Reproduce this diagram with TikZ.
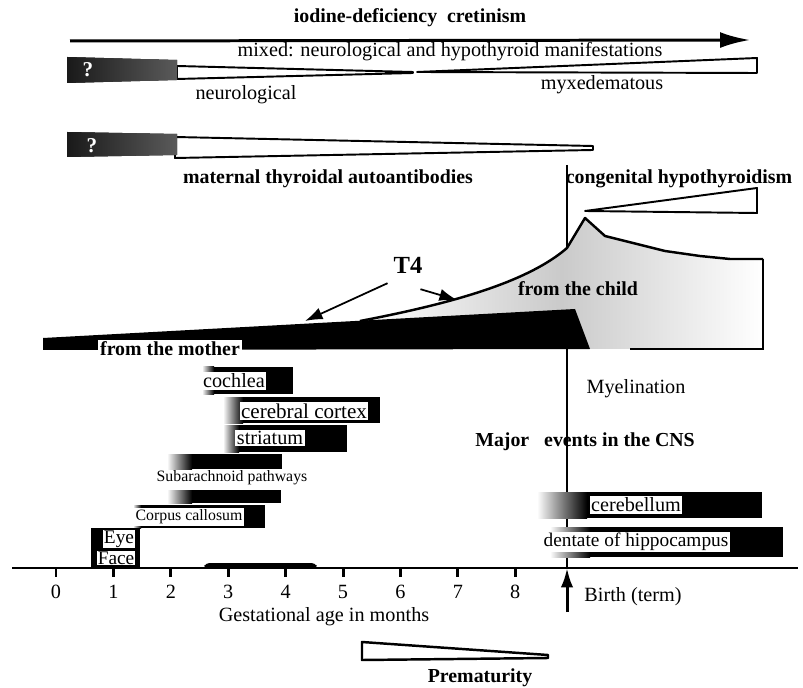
\documentclass[tikz,border=0pt]{standalone}
\usepackage{fontspec}
\setmainfont{Liberation Serif}
\usepackage{tikz}
\usetikzlibrary{arrows.meta}
\definecolor{dotgrey}{HTML}{5A5A5A}
\definecolor{stipple}{HTML}{CACACA}

\begin{document}
\begin{tikzpicture}[x=0.02cm, y=-0.02cm, >=Latex,
  txt/.style={font=\fontsize{11.5}{13}\selectfont, inner sep=1pt},
  hd/.style={font=\fontsize{11.3}{13}\selectfont\bfseries, inner sep=1pt},
  sml/.style={font=\fontsize{9}{11}\selectfont, inner sep=1pt},
  lab/.style={txt, fill=white, inner sep=0.8pt},
  qmark/.style={font=\fontsize{12}{12}\selectfont\bfseries, text=white, inner sep=0pt},
  wedge/.style={draw=black, line width=1.1pt, fill=white, line join=round},
  qbox/.style={left color=black!90, right color=dotgrey},
  thick line/.style={line width=1.7pt},
  t4arrow/.style={line width=1pt, -{Latex[length=10pt,width=7pt]}}]
  \useasboundingbox (0,0) rectangle (803,688);
  % ---------- cretinism ----------
  \node[hd] (cret) at (410,18) {iodine-deficiency\ \ cretinism};
  \coordinate (cretL) at (70,41); \coordinate (cretR) at (750,40);
  \draw[thick line, -{Latex[length=17pt,width=9pt]}] (cretL) -- (cretR);
  \node[txt] (mixed) at (450,52) {mixed: neurological and hypothyroid manifestations};
  \draw[wedge] (177,66) -- (413,72) -- (413,73) -- (177,79) -- cycle;
  \fill[qbox] (67,57) -- (177,60) -- (177,80) -- (67,83) -- cycle;
  \node[qmark] (q1) at (88,70) {?};
  \node[txt] (neuro) at (246,95) {neurological};
  \draw[wedge] (417,72) -- (757,58) -- (757,73) -- cycle;
  \node[txt] (myx) at (602,85) {myxedematous};
  % ---------- autoantibodies ----------
  \draw[wedge] (175,137) -- (593,146) -- (593,150) -- (175,158) -- cycle;
  \fill[qbox] (67,132) -- (177,134) -- (177,155) -- (67,157) -- cycle;
  \node[qmark] (q2) at (92,146) {?};
  \node[hd] (mat) at (328,179) {maternal thyroidal autoantibodies};
  \node[hd] (cong) at (679,179) {congenital hypothyroidism};
  \draw[wedge] (585,211) -- (757,188) -- (757,213) -- cycle;
  % ---------- birth line ----------
  \coordinate (bTop) at (567,165); \coordinate (bAxis) at (567,568);
  \draw[line width=1pt] (bTop) -- (bAxis);
  % ---------- T4 ----------
  \path[left color=white, right color=white, middle color=stipple]
    (360,321) .. controls (460,302) and (530,280) .. (567,248) -- (585,218) -- (605,236)
    -- (625,241) -- (665,251) -- (700,256) -- (730,259) -- (763,259) -- (763,349) -- (560,349) -- cycle;
  \fill (43,338) -- (575,309) -- (590,349) -- (43,350) -- cycle;
  \draw[line width=1.4pt, line join=round] (360,321) .. controls (460,302) and (530,280) .. (567,248)
    -- (585,218) -- (605,236) -- (625,241) -- (665,251) -- (700,256) -- (730,259) -- (763,259);
  \draw[line width=0.8pt] (763,259) -- (763,349) -- (630,349);
  \node[hd, fill=white] (mother) at (170,349) {from the mother};
  \node[hd] (child) at (578,289) {from the child};
  \node[font=\fontsize{14}{16}\selectfont\bfseries, inner sep=1pt] (t4) at (408,265) {T4};
  \coordinate (t4m) at (305,321); \coordinate (t4c) at (457,300);
  \draw[t4arrow] (t4.south west) ++(-4,8) -- (t4m);
  \draw[t4arrow] (t4.south east) ++(-4,14) -- (t4c);
  % ---------- CNS ----------
  \node[txt] (myel) at (636,389) {Myelination};
  \node[hd] (major) at (585,442) {Major~~ events in the CNS};
  \foreach \n/\a/\b/\t/\u/\g in {coch/202/293/367/394/12, cort/223/380/397/423/20, stri/223/347/425/452/16,
      suba/167/282/454/469/25, corp/167/281/490/503/25, call/133/265/505/528/8,
      cbl/537/762/492/518/50, dent/550/783/527/557/40}
    { \fill (\a,\t) rectangle (\b,\u); \shade[left color=white, right color=black] (\a,\t) rectangle (\a+\g,\u); }
  \node[lab] (cochlea) at (234,381) {cochlea};
  \node[lab, font=\fontsize{12}{13}\selectfont] (cortex) at (304,411) {cerebral cortex};
  \node[lab] (striatum) at (270,438) {striatum};
  \node[sml] (subarach) at (232,478) {Subarachnoid pathways};
  \node[sml, fill=white] (callosum) at (189,517) {Corpus callosum};
  \node[lab] (cerebellum) at (636,505) {cerebellum};
  \node[lab, font=\fontsize{11}{12}\selectfont] (dentate) at (636,542) {dentate of hippocampus};
  \fill (91,528) rectangle (140,568);
  \node[lab, font=\fontsize{11}{12}\selectfont, inner sep=0.3pt] (eye) at (119,539) {Eye};
  \node[lab, font=\fontsize{11}{12}\selectfont, inner sep=0.3pt] (face) at (116,558) {Face};
  % ---------- axis ----------
  \coordinate (axL) at (12,568); \coordinate (axR) at (798,568);
  \draw[thick line] (axL) -- (axR);
  \fill[rounded corners=2pt] (203,568) -- (206,563) -- (315,563) -- (318,568) -- cycle;
  \foreach \k in {0,...,8}
    { \draw[thick line] (56+57.4*\k,568) -- ++(0,9); \node[txt] (m\k) at (56+57.4*\k,592) {\k}; }
  \coordinate (bBase) at (567,612);
  \draw[thick line, -{Latex[length=11pt,width=7pt]}] (bBase) -- (bAxis);
  \node[txt] (birth) at (633,597) {Birth (term)};
  \node[txt] (gest) at (324,617) {Gestational age in months};
  \draw[wedge, line width=1.4pt] (362,642) -- (548,655) -- (548,658) -- (362,660) -- cycle;
  \node[hd] (prem) at (480,678) {Prematurity};
\end{tikzpicture}
\end{document}
